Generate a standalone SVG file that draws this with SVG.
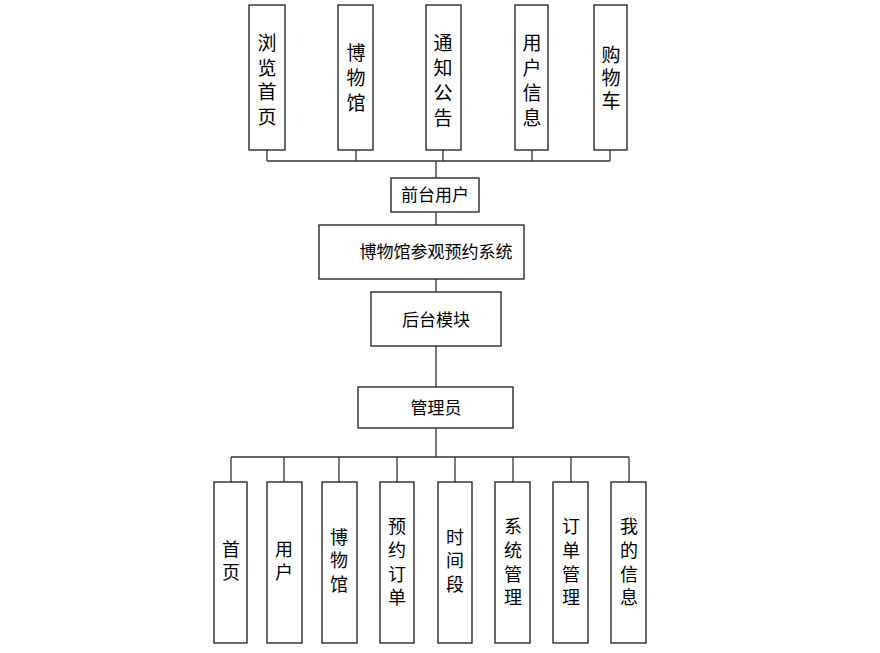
<svg xmlns="http://www.w3.org/2000/svg" width="880" height="653" viewBox="0 0 880 653">
<style>
.box{fill:#fff;stroke:#1a1a1a;stroke-width:1.3}
.t{font-family:"Liberation Sans","Noto Sans CJK SC",sans-serif;fill:#000;text-anchor:middle;dominant-baseline:central}
.v{font-size:19px}
.vb{font-size:18px}
.h{font-size:17px}
.c{fill:none;stroke:#333;stroke-width:1.3}
</style>
<rect width="880" height="653" fill="#fff"/>
<g id="connectors">
<path class="c" d="M267 150V161M356 150V161M443 150V161M532 150V161M610 150V161M267 161H610M436 161V178"/>
<path class="c" d="M436 212V225M436 279V292M436 346V387M436 428V457"/>
<path class="c" d="M231 457H629M231 457V482M284 457V482M339 457V482M397 457V482M455 457V482M513 457V482M571 457V482M629 457V482"/>
</g>
<g id="n_liulan"><rect class="box" x="249" y="5" width="36" height="145"/><text class="t v"><tspan x="267" y="43">浏</tspan><tspan x="267" y="68">览</tspan><tspan x="267" y="92">首</tspan><tspan x="267" y="117">页</tspan></text></g>
<g id="n_bowuguan1"><rect class="box" x="338" y="5" width="35" height="145"/><text class="t v"><tspan x="356" y="53">博</tspan><tspan x="356" y="78">物</tspan><tspan x="356" y="103">馆</tspan></text></g>
<g id="n_tongzhi"><rect class="box" x="426" y="5" width="35" height="145"/><text class="t v"><tspan x="443" y="43">通</tspan><tspan x="443" y="68">知</tspan><tspan x="443" y="93">公</tspan><tspan x="443" y="118">告</tspan></text></g>
<g id="n_yonghuxinxi"><rect class="box" x="515" y="5" width="33" height="145"/><text class="t v"><tspan x="532" y="43">用</tspan><tspan x="532" y="68">户</tspan><tspan x="532" y="93">信</tspan><tspan x="532" y="118">息</tspan></text></g>
<g id="n_gouwuche"><rect class="box" x="594" y="5" width="33" height="145"/><text class="t v"><tspan x="611" y="55">购</tspan><tspan x="611" y="78">物</tspan><tspan x="611" y="101">车</tspan></text></g>
<g id="n_qiantai"><rect class="box" x="391" y="178" width="88" height="34"/><text class="t h" x="435" y="195.5">前台用户</text></g>
<g id="n_system"><rect class="box" x="319" y="225" width="205" height="54"/><text class="t h" x="436" y="252">博物馆参观预约系统</text></g>
<g id="n_houtai"><rect class="box" x="371" y="292" width="130" height="54"/><text class="t h" x="436" y="320">后台模块</text></g>
<g id="n_admin"><rect class="box" x="358" y="387" width="155" height="41"/><text class="t h" x="436" y="408">管理员</text></g>
<g id="n_shouye"><rect class="box" x="214" y="482" width="33" height="161"/><text class="t vb"><tspan x="231" y="550">首</tspan><tspan x="231" y="573">页</tspan></text></g>
<g id="n_yonghu"><rect class="box" x="267" y="482" width="35" height="161"/><text class="t vb"><tspan x="284" y="550">用</tspan><tspan x="284" y="573">户</tspan></text></g>
<g id="n_bowuguan2"><rect class="box" x="322" y="482" width="35" height="161"/><text class="t vb"><tspan x="339" y="538">博</tspan><tspan x="339" y="561">物</tspan><tspan x="339" y="585">馆</tspan></text></g>
<g id="n_yuyue"><rect class="box" x="380" y="482" width="34" height="161"/><text class="t vb"><tspan x="397" y="527">预</tspan><tspan x="397" y="551">约</tspan><tspan x="397" y="575">订</tspan><tspan x="397" y="598">单</tspan></text></g>
<g id="n_shijian"><rect class="box" x="438" y="482" width="34" height="161"/><text class="t vb"><tspan x="455" y="538">时</tspan><tspan x="455" y="561">间</tspan><tspan x="455" y="585">段</tspan></text></g>
<g id="n_xitong"><rect class="box" x="495" y="482" width="35" height="161"/><text class="t vb"><tspan x="513" y="527">系</tspan><tspan x="513" y="551">统</tspan><tspan x="513" y="575">管</tspan><tspan x="513" y="598">理</tspan></text></g>
<g id="n_dingdan"><rect class="box" x="553" y="482" width="35" height="161"/><text class="t vb"><tspan x="571" y="527">订</tspan><tspan x="571" y="551">单</tspan><tspan x="571" y="575">管</tspan><tspan x="571" y="598">理</tspan></text></g>
<g id="n_wode"><rect class="box" x="611" y="482" width="35" height="161"/><text class="t vb"><tspan x="629" y="527">我</tspan><tspan x="629" y="551">的</tspan><tspan x="629" y="575">信</tspan><tspan x="629" y="598">息</tspan></text></g>
</svg>
